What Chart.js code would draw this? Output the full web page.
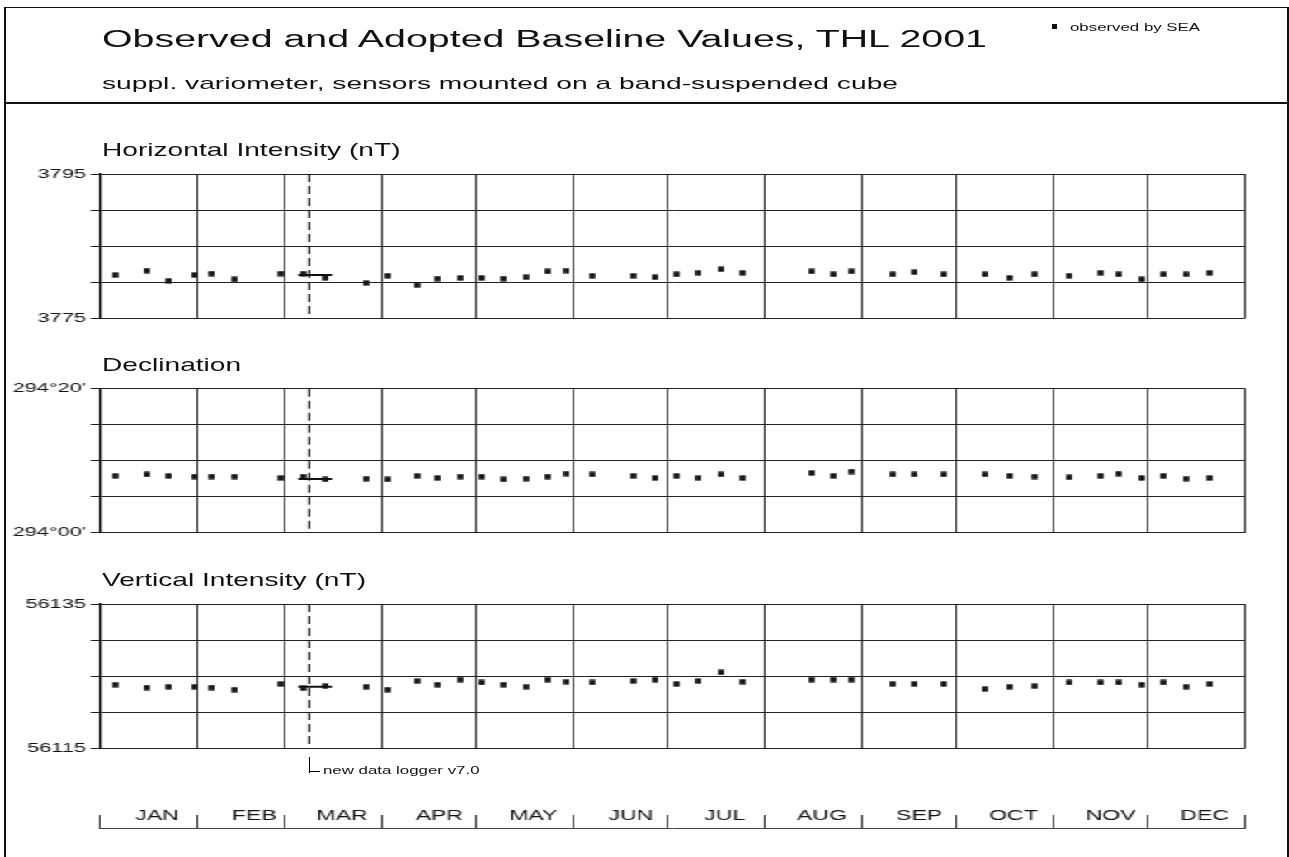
<!DOCTYPE html>
<html>
<head>
<meta charset="utf-8">
<title>Observed and Adopted Baseline Values, THL 2001</title>
<script src="https://cdn.jsdelivr.net/npm/chart.js@4.4.1/dist/chart.umd.min.js"></script>
<style>
    html, body { margin: 0; padding: 0; background: #fff; }
    #page { position: relative; width: 1289px; height: 857px; overflow: hidden; background: #fff;
            font-family: "Liberation Sans", Arial, sans-serif; color: #111; }
    /* the original plot is drawn horizontally stretched, so the canvases are too */
    #stretch { position: absolute; left: 0; top: 0; width: 781.2px; height: 857px;
               transform: scaleX(1.65); transform-origin: 0 0; }
    #stretch canvas { position: absolute; left: 0; }
    .txt { position: absolute; white-space: nowrap; line-height: normal; transform-origin: 0 0; }
    .rule { position: absolute; background: #111; }
</style>
</head>
<body>
<div id="page">
    <div id="stretch">
        <canvas id="chartH" width="781" height="170" style="top:160px"></canvas>
        <canvas id="chartD" width="781" height="170" style="top:375px"></canvas>
        <canvas id="chartZ" width="781" height="170" style="top:590px"></canvas>
        <canvas id="chartMonths" width="781" height="50" style="top:795px"></canvas>
    </div>

    <!-- frame -->
    <div class="rule" style="left:4px; top:6.5px; width:1285px; height:1.8px"></div>
    <div class="rule" style="left:4px; top:6.5px; width:1.6px; height:851px"></div>
    <div class="rule" style="left:1287px; top:6.5px; width:1.6px; height:851px"></div>
    <div class="rule" style="left:4px; top:101.8px; width:1285px; height:2px"></div>

    <!-- header -->
    <div class="txt" data-x="101.6" data-base="46.7" data-size="23.3" data-w="885">Observed and Adopted Baseline Values, THL 2001</div>
    <div class="txt" data-x="101.6" data-base="89.3" data-size="16.6" data-w="796">suppl. variometer, sensors mounted on a band-suspended cube</div>
    <div class="rule" style="left:1052px; top:24px; width:5px; height:5px"></div>
    <div class="txt" data-x="1069.6" data-base="30.8" data-size="10" data-w="130">observed by SEA</div>

    <!-- panel titles -->
    <div class="txt" data-x="101.6" data-base="156" data-size="17.7" data-w="298.5">Horizontal Intensity (nT)</div>
    <div class="txt" data-x="101.6" data-base="370.7" data-size="17.7" data-k="1.59">Declination</div>
    <div class="txt" data-x="101.6" data-base="586.5" data-size="17.7" data-w="264">Vertical Intensity (nT)</div>

    <!-- data logger note under the lower panel -->
    <div class="rule" style="left:308.6px; top:757px; width:1.5px; height:15.5px; background:#000"></div>
    <div class="rule" style="left:308.6px; top:771px; width:11px; height:1.4px; background:#000"></div>
    <div class="txt" data-x="322.8" data-base="773.8" data-size="10.5" data-w="156.5">new data logger v7.0</div>
</div>

<script>
// --- data ---
const monthNames = ['JAN', 'FEB', 'MAR', 'APR', 'MAY', 'JUN', 'JUL', 'AUG', 'SEP', 'OCT', 'NOV', 'DEC'];
const monthStarts = [0, 31, 59, 90, 120, 151, 181, 212, 243, 273, 304, 334, 365];

// day of year of each absolute observation
const obsDays = [4.7, 14.8, 21.9, 29.9, 35.6, 42.9, 57.6, 64.6, 71.9, 84.7, 91.7, 100.9, 107.6, 114.7,
    121.6, 128.6, 135.6, 142.7, 148.7, 156.8, 169.8, 176.8, 183.7, 190.8, 197.8, 204.8, 226.8, 233.8,
    239.5, 252.7, 259.6, 268.9, 281.9, 289.9, 297.9, 308.8, 318.9, 324.7, 332.0, 339.0, 346.0, 353.7];

// Horizontal intensity baseline (nT)
const hValues = [3781.0, 3781.6, 3780.2, 3781.0, 3781.2, 3780.4, 3781.2, 3781.2, 3780.6, 3779.9, 3780.9,
    3779.6, 3780.5, 3780.6, 3780.6, 3780.5, 3780.7, 3781.5, 3781.6, 3780.9, 3780.9, 3780.7, 3781.1,
    3781.3, 3781.8, 3781.3, 3781.5, 3781.1, 3781.5, 3781.1, 3781.4, 3781.1, 3781.1, 3780.6, 3781.1,
    3780.9, 3781.3, 3781.1, 3780.4, 3781.1, 3781.1, 3781.3];

// Declination baseline, minutes above 294°
const dValues = [7.9, 8.1, 7.9, 7.8, 7.8, 7.8, 7.6, 7.8, 7.4, 7.5, 7.4, 7.9, 7.6, 7.8, 7.8, 7.4, 7.5,
    7.8, 8.2, 8.1, 7.9, 7.6, 7.9, 7.6, 8.1, 7.6, 8.3, 7.9, 8.5, 8.1, 8.1, 8.1, 8.1, 7.9, 7.8, 7.7, 7.9,
    8.2, 7.6, 7.9, 7.5, 7.6];

// Vertical intensity baseline (nT)
const zValues = [56123.8, 56123.4, 56123.5, 56123.5, 56123.4, 56123.1, 56123.9, 56123.3, 56123.6,
    56123.5, 56123.1, 56124.3, 56123.8, 56124.5, 56124.1, 56123.8, 56123.5, 56124.5, 56124.2, 56124.1,
    56124.3, 56124.5, 56123.9, 56124.3, 56125.5, 56124.2, 56124.5, 56124.5, 56124.5, 56123.9, 56123.9,
    56123.9, 56123.2, 56123.5, 56123.6, 56124.1, 56124.1, 56124.1, 56123.8, 56124.1, 56123.5, 56123.9];

// adopted baseline segment around the logger change
const adoptedDays = [63.1, 74.0];
const hAdopted = 3781.0;
const dAdopted = 7.46;
const zAdopted = 56123.5;

const loggerDay = 66.6;   // new data logger v7.0

// axis ranges / labels
const hTicks = [3775, 3780, 3785, 3790, 3795];
const dTicks = [0, 5, 10, 15, 20];
const dTickLabels = { 0: "294°00'", 20: "294°20'" };
const zTicks = [56115, 56120, 56125, 56130, 56135];

// --- layout (canvas units, before the horizontal stretch) ---
const FONT = '"Liberation Sans", Arial, sans-serif';
const PLOT_LEFT = 60.79;
const PAD_RIGHT = 781.2 - 754.85;

// small filled rectangle used as marker
const squareMark = document.createElement('canvas');
squareMark.width = 4;
squareMark.height = 6;
(function () {
    const c = squareMark.getContext('2d');
    c.fillStyle = '#111';
    c.fillRect(0.2, 0.35, 3.6, 5.3);
})();

function panelChart(id, cfg) {
    const ticks = cfg.ticks;
    const min = ticks[0];
    const max = ticks[ticks.length - 1];

    return new Chart(document.getElementById(id), {
        type: 'scatter',
        data: {
            datasets: [
                {
                    label: 'observed by SEA',
                    data: obsDays.map((d, i) => ({ x: d, y: cfg.values[i] })),
                    pointStyle: squareMark,
                    pointRadius: 3
                },
                {
                    label: 'adopted',
                    data: adoptedDays.map(d => ({ x: d, y: cfg.adopted })),
                    showLine: true,
                    borderColor: '#111',
                    borderWidth: 2,
                    pointRadius: 0
                },
                {
                    label: 'new data logger',
                    data: [{ x: loggerDay, y: max }, { x: loggerDay, y: min }],
                    showLine: true,
                    borderColor: '#000',
                    borderWidth: 1.2,
                    borderDash: [8, 4],
                    pointRadius: 0
                }
            ]
        },
        options: {
            responsive: false,
            animation: false,
            events: [],
            layout: { padding: { left: 0, right: PAD_RIGHT, top: cfg.padTop, bottom: cfg.padBottom } },
            plugins: { legend: { display: false }, tooltip: { enabled: false } },
            scales: {
                x: {
                    type: 'linear', min: 0, max: 365,
                    afterBuildTicks: s => { s.ticks = monthStarts.map(v => ({ value: v })); },
                    afterFit: s => { s.height = 0; },
                    ticks: { display: false },
                    grid: { color: '#333', lineWidth: 1, drawTicks: false },
                    border: { display: false }
                },
                y: {
                    min: min, max: max,
                    afterBuildTicks: s => { s.ticks = ticks.map(v => ({ value: v })); },
                    afterFit: s => { s.width = PLOT_LEFT; },
                    ticks: {
                        autoSkip: false,
                        padding: 2.7,
                        color: '#111',
                        font: { family: FONT, size: 13.2 },
                        callback: v => (v === min || v === max) ? cfg.label(v) : ''
                    },
                    grid: { color: '#222', lineWidth: 1, tickLength: 6 },
                    border: { display: true, color: '#000', width: 1.6 }
                }
            }
        }
    });
}

panelChart('chartH', { ticks: hTicks, values: hValues, adopted: hAdopted, padTop: 14, padBottom: 11.7, label: v => String(v) });
panelChart('chartD', { ticks: dTicks, values: dValues, adopted: dAdopted, padTop: 13.7, padBottom: 12.3, label: v => dTickLabels[v] });
panelChart('chartZ', { ticks: zTicks, values: zValues, adopted: zAdopted, padTop: 14, padBottom: 12, label: v => String(v) });

// month strip at the bottom: tick marks at month boundaries, names mirrored up into the strip
new Chart(document.getElementById('chartMonths'), {
    type: 'scatter',
    data: { datasets: [] },
    options: {
        responsive: false,
        animation: false,
        events: [],
        layout: { padding: { left: PLOT_LEFT, right: PAD_RIGHT, top: 20, bottom: 16.7 } },
        plugins: { legend: { display: false }, tooltip: { enabled: false } },
        scales: {
            x: {
                type: 'linear', min: 0, max: 365,
                afterBuildTicks: s => { s.ticks = monthStarts.map(v => ({ value: v })); },
                afterFit: s => { s.height = 0; },
                ticks: {
                    autoSkip: false,
                    maxRotation: 0,
                    mirror: true,
                    labelOffset: 34.4,
                    padding: 3.4,
                    color: '#111',
                    font: { family: FONT, size: 14 },
                    callback: (v, i) => i < monthNames.length ? monthNames[i] : ''
                },
                grid: { color: '#333', lineWidth: 1, drawTicks: false },
                border: { display: true, color: '#444', width: 1 }
            },
            y: { display: false, min: 0, max: 1 }
        }
    }
});

// --- place the html texts on their baselines and stretch them to the measured width ---
document.querySelectorAll('.txt').forEach(el => {
    const size = parseFloat(el.dataset.size);
    el.style.fontSize = size + 'px';
    el.style.left = el.dataset.x + 'px';
    el.style.top = (parseFloat(el.dataset.base) - size * 0.905) + 'px';
    let k = parseFloat(el.dataset.k || '1');
    if (el.dataset.w) {
        k = parseFloat(el.dataset.w) / el.getBoundingClientRect().width;
    }
    el.style.transform = 'scaleX(' + k.toFixed(4) + ')';
});
</script>
</body>
</html>
